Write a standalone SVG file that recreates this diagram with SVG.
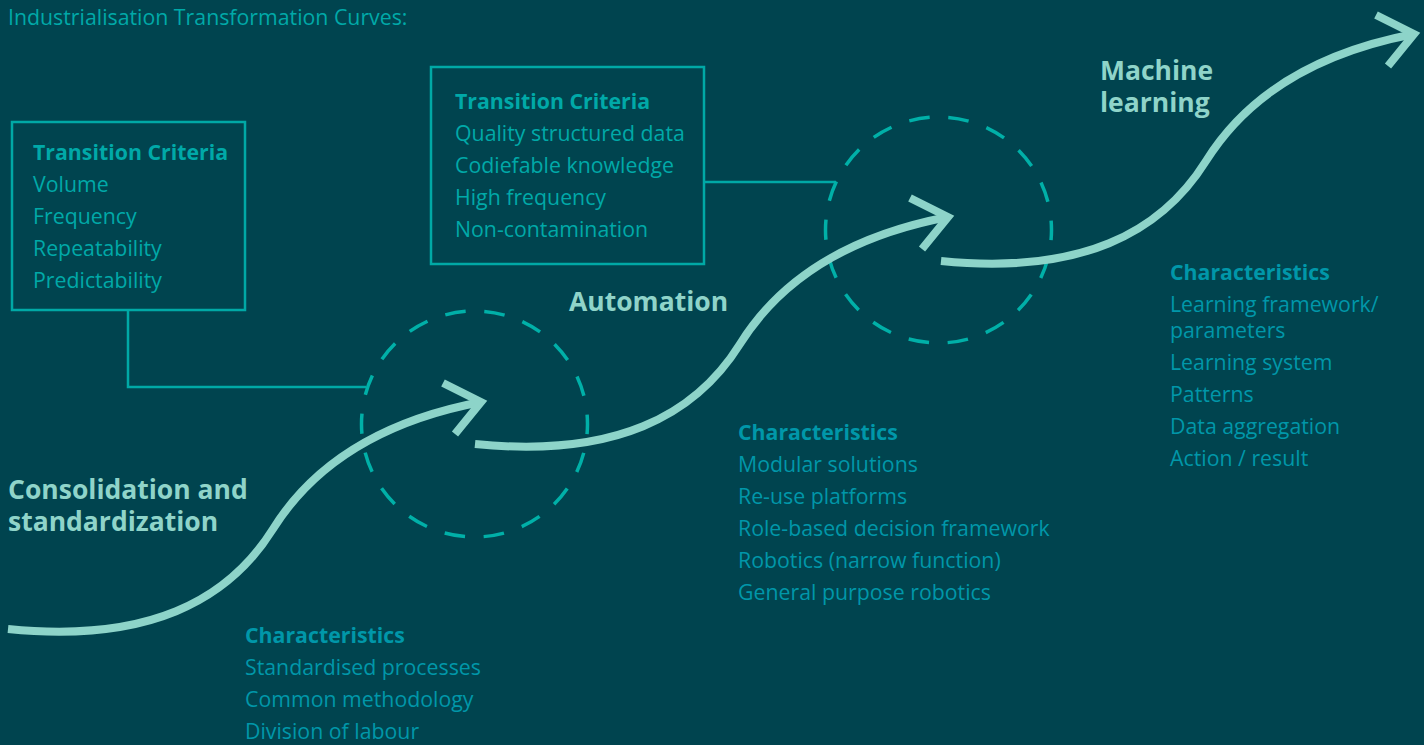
<svg xmlns="http://www.w3.org/2000/svg" width="1424" height="745" viewBox="0 0 1424 745">
<defs>
<style>
text{font-family:"Open Sans","Noto Sans","Liberation Sans",sans-serif;}
.title{font-size:21.3px;fill:#00A9A8;}
.tc{font-size:21.3px;fill:#00A9A8;}
.ch{font-size:21.3px;fill:#0097A9;}
.b{font-weight:bold;}
.head{font-size:26.5px;font-weight:bold;fill:#8FD4C9;}
.box{fill:none;stroke:#00A9A6;stroke-width:2.5;}
.conn{fill:none;stroke:#00A9A6;stroke-width:2.5;}
.ring{fill:none;stroke:#00B0A8;stroke-width:3.5;stroke-dasharray:20.5 18.94;stroke-dashoffset:10.25;}
.curve{fill:none;stroke:#8DD4C9;stroke-width:8;}
</style>
<g id="scurve">
<path class="curve" d="M0,0 C140,14 220,-28 265,-100 C300,-156 363,-206 473,-227"/>
<polyline class="curve" points="435,-246 473,-227 447,-195"/>
</g>
</defs>
<rect width="1424" height="745" fill="#00444F"/>
<text class="title" x="8" y="25">Industrialisation Transformation Curves:</text>

<g id="connectors">
<polyline class="conn" points="128,310 128,387 366,387"/>
<polyline class="conn" points="704,182 836,182"/>
</g>

<g id="ring1"><circle class="ring" cx="474.5" cy="424" r="113"/></g>
<g id="ring2"><circle class="ring" cx="938.5" cy="230" r="113"/></g>

<g id="curve1"><use href="#scurve" transform="translate(8,629)"/></g>
<g id="curve2"><use href="#scurve" transform="translate(475,444)"/></g>
<g id="curve3"><use href="#scurve" transform="translate(941,261)"/></g>

<g id="criteria1">
<rect class="box" x="12" y="122" width="233" height="188"/>
<text class="tc b" x="33" y="160">Transition Criteria</text>
<text class="tc" x="33" y="192">Volume</text>
<text class="tc" x="33" y="224">Frequency</text>
<text class="tc" x="33" y="256">Repeatability</text>
<text class="tc" x="33" y="288">Predictability</text>
</g>

<g id="criteria2">
<rect class="box" x="431" y="67" width="273" height="197"/>
<text class="tc b" x="455" y="109">Transition Criteria</text>
<text class="tc" x="455" y="141">Quality structured data</text>
<text class="tc" x="455" y="173">Codiefable knowledge</text>
<text class="tc" x="455" y="205">High frequency</text>
<text class="tc" x="455" y="237">Non-contamination</text>
</g>

<g id="stage1">
<text class="head" x="8" y="499">Consolidation and</text>
<text class="head" x="8" y="531">standardization</text>
</g>
<g id="stage2"><text class="head" x="569" y="311">Automation</text></g>
<g id="stage3">
<text class="head" x="1100" y="80">Machine</text>
<text class="head" x="1100" y="112">learning</text>
</g>

<g id="chars1">
<text class="ch b" x="245" y="643">Characteristics</text>
<text class="ch" x="245" y="675">Standardised processes</text>
<text class="ch" x="245" y="707">Common methodology</text>
<text class="ch" x="245" y="739">Division of labour</text>
</g>

<g id="chars2">
<text class="ch b" x="738" y="440">Characteristics</text>
<text class="ch" x="738" y="472">Modular solutions</text>
<text class="ch" x="738" y="504">Re-use platforms</text>
<text class="ch" x="738" y="536">Role-based decision framework</text>
<text class="ch" x="738" y="568">Robotics (narrow function)</text>
<text class="ch" x="738" y="600">General purpose robotics</text>
</g>

<g id="chars3">
<text class="ch b" x="1170" y="280">Characteristics</text>
<text class="ch" x="1170" y="312">Learning framework/</text>
<text class="ch" x="1170" y="338">parameters</text>
<text class="ch" x="1170" y="370">Learning system</text>
<text class="ch" x="1170" y="402">Patterns</text>
<text class="ch" x="1170" y="434">Data aggregation</text>
<text class="ch" x="1170" y="466">Action / result</text>
</g>
</svg>
